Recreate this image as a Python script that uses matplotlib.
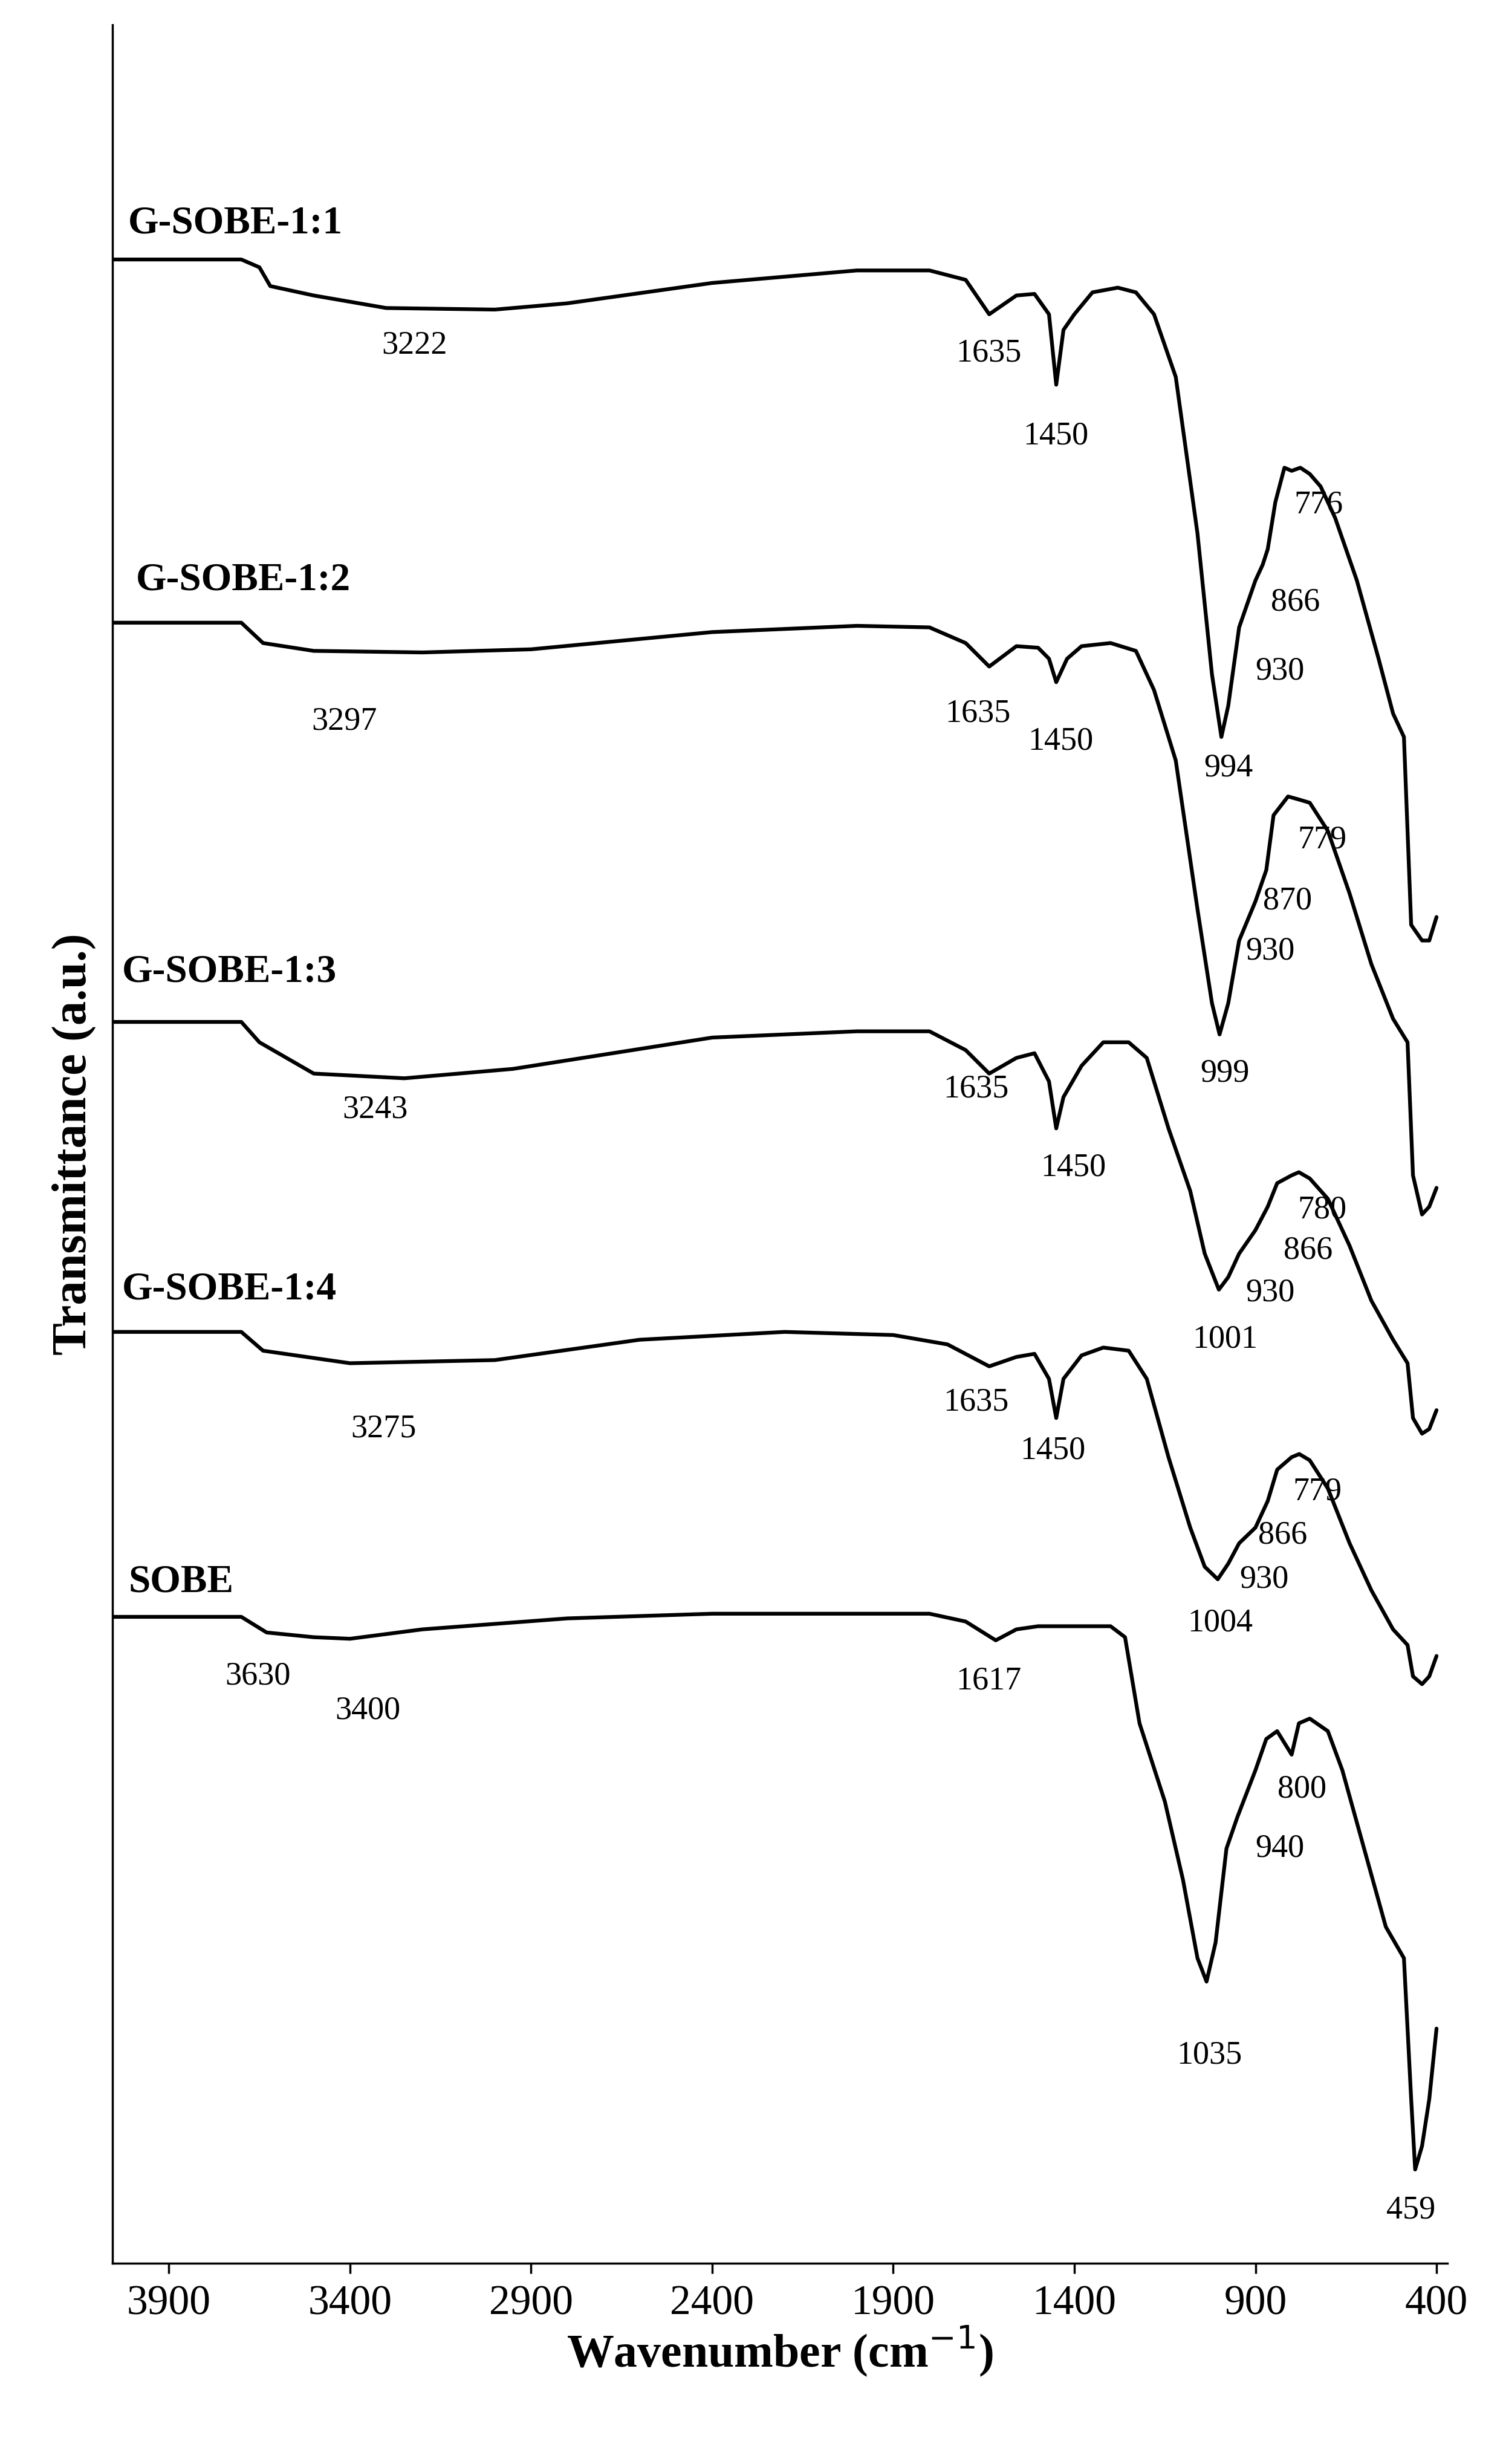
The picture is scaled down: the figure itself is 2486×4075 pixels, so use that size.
import matplotlib
matplotlib.use("Agg")
import matplotlib.pyplot as plt

plt.rcParams['font.family'] = ['Liberation Serif', 'DejaVu Serif']

# spectra: (wavenumber, trace level), level measured downward from the top
g11 = [(4055,165),(3700,165),(3650,170),(3620,182),(3500,188),(3300,196),(3000,197),(2800,193),(2400,180),(2200,176),
       (2000,172),(1800,172),(1700,178),(1635,200),(1560,188),(1510,187),(1470,200),(1450,245),(1430,210),(1400,200),
       (1350,186),(1280,183),(1230,186),(1180,200),(1120,240),(1060,340),(1020,430),(994,470),(975,450),(945,400),
       (900,370),(880,360),(866,350),(845,320),(820,298),(800,300),(776,298),(750,302),(720,310),(680,330),(620,370),
       (560,420),(520,455),(490,470),(470,590),(440,600),(420,600),(400,585)]
g12 = [(4055,397),(3700,397),(3640,410),(3500,415),(3200,416),(2900,414),(2400,403),(2000,399),(1800,400),(1700,410),
       (1635,425),(1560,412),(1500,413),(1470,420),(1450,435),(1420,420),(1380,412),(1300,410),(1230,415),(1180,440),
       (1120,485),(1060,580),(1020,640),(999,660),(975,640),(945,600),(900,575),(870,555),(850,520),(810,508),(779,510),
       (750,512),(700,530),(640,570),(580,615),(520,650),(480,665),(465,750),(440,775),(420,770),(400,758)]
g13 = [(4055,652),(3700,652),(3650,665),(3500,685),(3250,688),(2950,682),(2400,662),(2000,658),(1800,658),(1700,670),
       (1635,685),(1560,675),(1510,672),(1470,690),(1450,720),(1430,700),(1380,680),(1320,665),(1250,665),(1200,675),
       (1140,720),(1080,760),(1040,800),(1001,823),(975,815),(945,800),(900,785),(866,770),(840,755),(800,750),(780,748),
       (750,752),(700,765),(640,795),(580,830),(520,855),(480,870),(465,905),(440,915),(420,912),(400,900)]
g14 = [(4055,850),(3700,850),(3640,862),(3400,870),(3000,868),(2600,855),(2200,850),(1900,852),(1750,858),(1635,872),
       (1560,866),(1510,864),(1470,880),(1450,905),(1430,880),(1380,865),(1320,860),(1250,862),(1200,880),(1140,930),
       (1080,975),(1040,1000),(1004,1008),(975,998),(945,985),(900,975),(866,958),(840,938),(800,930),(779,928),
       (750,932),(700,950),(640,985),(580,1015),(520,1040),(480,1050),(465,1070),(440,1075),(420,1070),(400,1057)]
sobe = [(4055,1032),(3700,1032),(3630,1042),(3500,1045),(3400,1046),(3200,1040),(2800,1033),(2400,1030),(2000,1030),
        (1800,1030),(1700,1035),(1617,1047),(1560,1040),(1500,1038),(1300,1038),(1260,1045),(1220,1100),(1150,1150),
        (1100,1200),(1060,1250),(1035,1265),(1010,1240),(980,1180),(950,1160),(900,1130),(870,1110),(840,1105),
        (800,1120),(780,1100),(750,1097),(700,1105),(660,1130),(600,1180),(540,1230),(490,1250),(470,1340),(459,1385),
        (440,1370),(420,1340),(400,1295)]
spectra = [g11, g12, g13, g14, sobe]

names = ["G-SOBE-1:1", "G-SOBE-1:2", "G-SOBE-1:3", "G-SOBE-1:4", "SOBE"]
name_pos = [(4012,142), (3991,370), (4030,620), (4030,823), (4012,1010)]

peaks = [("3222",3222,220),("1635",1636,225),("1450",1451,278),("776",725,322),("866",790,384),("930",833,428),("994",975,490),
         ("3297",3416,460),("1635",1667,455),("1450",1438,473),("779",716,536),("870",811,575),("930",859,607),("999",984,685),
         ("3243",3330,708),("1635",1671,695),("1450",1403,745),("780",716,772),("866",755,798),("930",859,825),("1001",984,855),
         ("3275",3308,912),("1635",1671,895),("1450",1459,926),("779",729,952),("866",824,980),("930",876,1008),("1004",997,1036),
         ("3630",3654,1070),("3400",3351,1092),("1617",1636,1073),("800",772,1142),("940",833,1180),("1035",1027,1312),("459",470,1411)]

xticks = [3900, 3400, 2900, 2400, 1900, 1400, 900, 400]

fig = plt.figure(figsize=(24.86, 40.75), dpi=100)
ax = fig.add_axes([0.075, 0.0814, 0.888, 0.9086])

for s in spectra:
    ax.plot([p[0] for p in s], [-p[1] for p in s], color='black', lw=4.5,
            solid_joinstyle='round', solid_capstyle='round')

for n, (x, y) in zip(names, name_pos):
    ax.text(x, -y, n, fontsize=47, fontweight='bold', ha='left', va='center')
for t, x, y in peaks:
    ax.text(x, -y, t, fontsize=39, ha='center', va='center')

ax.set_xlim(4055, 370)
ax.set_ylim(-1445, -15)
ax.set_xticks(xticks)
ax.set_yticks([])
ax.tick_params(axis='x', labelsize=50, length=12, width=2.5, pad=14)
for sp in ['top', 'right']:
    ax.spines[sp].set_visible(False)
for sp in ['left', 'bottom']:
    ax.spines[sp].set_linewidth(2.5)
ax.set_xlabel("Wavenumber (cm$^{-1}$)", fontsize=56, fontweight='bold', labelpad=0)
ax.set_ylabel("Transmittance (a.u.)", fontsize=58, fontweight='bold', labelpad=20)

fig.savefig("out.png", dpi=100)
